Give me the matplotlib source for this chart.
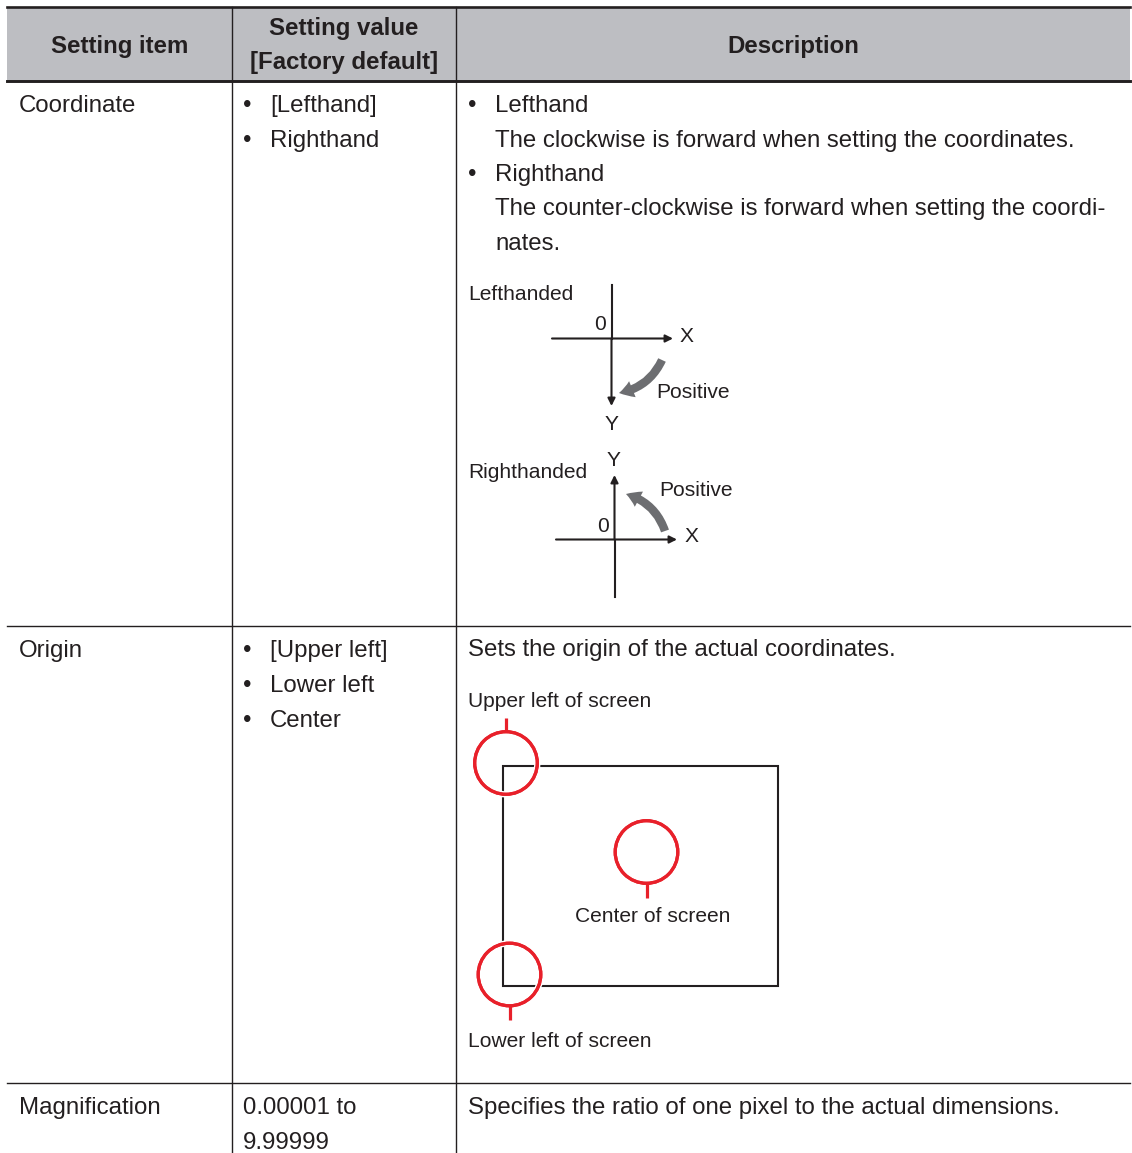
import matplotlib.pyplot as plt
from matplotlib.patches import Circle, Rectangle, FancyArrowPatch
import matplotlib.patheffects as pe

plt.rcParams['font.family'] = ['Liberation Sans', 'DejaVu Sans']

# table contents
headers = ["Setting item", "Setting value\n[Factory default]", "Description"]
items = ["Coordinate", "Origin", "Magnification"]
values = [["[Lefthand]", "Righthand"],
          ["[Upper left]", "Lower left", "Center"],
          ["0.00001 to", "9.99999"]]
value_bullets = [True, True, False]
coord_desc = [("•", "Lefthand"),
              ("", "The clockwise is forward when setting the coordinates."),
              ("•", "Righthand"),
              ("", "The counter-clockwise is forward when setting the coordi-"),
              ("", "nates.")]
origin_desc = "Sets the origin of the actual coordinates."
magn_desc = "Specifies the ratio of one pixel to the actual dimensions."
origin_labels = ["Upper left of screen", "Center of screen", "Lower left of screen"]

# layout (pixels)
W, H = 1132, 1153
col_x = [7, 232, 456, 1130]
row_top = [81, 626, 1083]
line_h = 35
dark = "#231f20"
gray_arrow = "#6d6e71"
red = "#e8202a"
fs = 17.3
fs_small = 15.1

fig = plt.figure(figsize=(W / 100, H / 100), dpi=100)
ax = fig.add_axes([0, 0, 1, 1])
ax.set_xlim(0, W)
ax.set_ylim(H, 0)
ax.axis("off")

# header
ax.add_patch(Rectangle((col_x[0], 7), col_x[3] - col_x[0], row_top[0] - 7,
                       facecolor="#bdbec2", edgecolor="none"))
ax.plot([col_x[0], col_x[3]], [7, 7], color=dark, lw=1.9)
ax.plot([col_x[0], col_x[3]], [row_top[0], row_top[0]], color=dark, lw=2.1)
for y in row_top[1:]:
    ax.plot([col_x[0], col_x[3]], [y, y], color=dark, lw=1.0)
for x in col_x[1:3]:
    ax.plot([x, x], [7, H], color=dark, lw=1.0)

ax.text((col_x[0] + col_x[1]) / 2, 53, headers[0], ha="center", va="baseline",
        fontsize=fs, fontweight="bold", color=dark)
for i, s in enumerate(headers[1].split("\n")):
    ax.text((col_x[1] + col_x[2]) / 2, 35 + i * 34, s, ha="center", va="baseline",
            fontsize=fs, fontweight="bold", color=dark)
ax.text((col_x[2] + col_x[3]) / 2, 53, headers[2], ha="center", va="baseline",
        fontsize=fs, fontweight="bold", color=dark)

# body text
for r, top in enumerate(row_top):
    base = top + 31
    ax.text(19, base, items[r], va="baseline", fontsize=fs, color=dark)
    for k, v in enumerate(values[r]):
        y = base + k * line_h
        if value_bullets[r]:
            ax.text(247, y, "•", ha="center", va="baseline", fontsize=fs, color=dark)
            ax.text(270, y, v, va="baseline", fontsize=fs, color=dark)
        else:
            ax.text(243, y, v, va="baseline", fontsize=fs, color=dark)

for k, (b, s) in enumerate(coord_desc):
    y = row_top[0] + 31 + k * 34.5
    if b:
        ax.text(472, y, b, ha="center", va="baseline", fontsize=fs, color=dark)
    ax.text(495, y, s, va="baseline", fontsize=fs, color=dark)
ax.text(468, row_top[1] + 30, origin_desc, va="baseline", fontsize=fs, color=dark)
ax.text(468, row_top[2] + 31, magn_desc, va="baseline", fontsize=fs, color=dark)


def axis_arrow(start, tip):
    ax.annotate("", xy=tip, xytext=start,
                arrowprops=dict(arrowstyle="-|>", lw=1.5, color=dark,
                                mutation_scale=11, shrinkA=0, shrinkB=0))


def turn_arrow(start, tip, rad):
    ax.add_patch(FancyArrowPatch(start, tip, connectionstyle=f"arc3,rad={rad}",
                                 arrowstyle="simple,head_width=0.62,head_length=0.5,tail_width=0.3",
                                 mutation_scale=20, color=gray_arrow,
                                 shrinkA=0, shrinkB=0, lw=0))


# Lefthanded diagram
ox, oy = 611.5, 338.5
ax.text(468, 294, "Lefthanded", va="center", fontsize=fs_small, color=dark)
ax.plot([ox, ox], [285, oy], color=dark, lw=1.5)
axis_arrow((ox, oy), (ox, 406))
axis_arrow((552, oy), (673, oy))
ax.text(600, 325, "0", ha="center", va="center", fontsize=fs_small, color=dark)
ax.text(686.5, 337, "X", ha="center", va="center", fontsize=fs_small, color=dark)
ax.text(611.5, 424, "Y", ha="center", va="center", fontsize=fs_small, color=dark)
turn_arrow((662, 360), (619, 393), -0.26)
ax.text(656, 393, "Positive", va="center", fontsize=fs_small, color=dark)

# Righthanded diagram
ox, oy = 614.5, 539.5
ax.text(468, 472, "Righthanded", va="center", fontsize=fs_small, color=dark)
ax.plot([ox, ox], [597, oy], color=dark, lw=1.5)
axis_arrow((ox, oy), (ox, 475))
axis_arrow((556, oy), (677, oy))
ax.text(603, 527, "0", ha="center", va="center", fontsize=fs_small, color=dark)
ax.text(691.5, 537, "X", ha="center", va="center", fontsize=fs_small, color=dark)
ax.text(613.5, 461, "Y", ha="center", va="center", fontsize=fs_small, color=dark)
turn_arrow((665, 531), (626, 494), 0.26)
ax.text(659, 490, "Positive", va="center", fontsize=fs_small, color=dark)

# Origin diagram
ax.add_patch(Rectangle((502.5, 765.5), 275, 220.5, facecolor="none",
                       edgecolor=dark, lw=1.5))
marks = [((506, 763), -1), ((646.5, 852), 1), ((509.5, 974.5), 1)]
for (cx, cy), d in marks:
    c = Circle((cx, cy), 31.3, facecolor="none", edgecolor=red, lw=2.3)
    c.set_path_effects([pe.withStroke(linewidth=4.5, foreground="white"), pe.Normal()])
    ax.add_patch(c)
    ax.plot([cx, cx], [cy + d * 31.3, cy + d * 45.5], color=red, lw=2.3,
            solid_capstyle="butt")
ax.text(468, 707, origin_labels[0], va="baseline", fontsize=fs_small, color=dark)
ax.text(653, 922, origin_labels[1], ha="center", va="baseline", fontsize=fs_small, color=dark)
ax.text(468, 1047, origin_labels[2], va="baseline", fontsize=fs_small, color=dark)

fig.savefig("out.png", dpi=100)
